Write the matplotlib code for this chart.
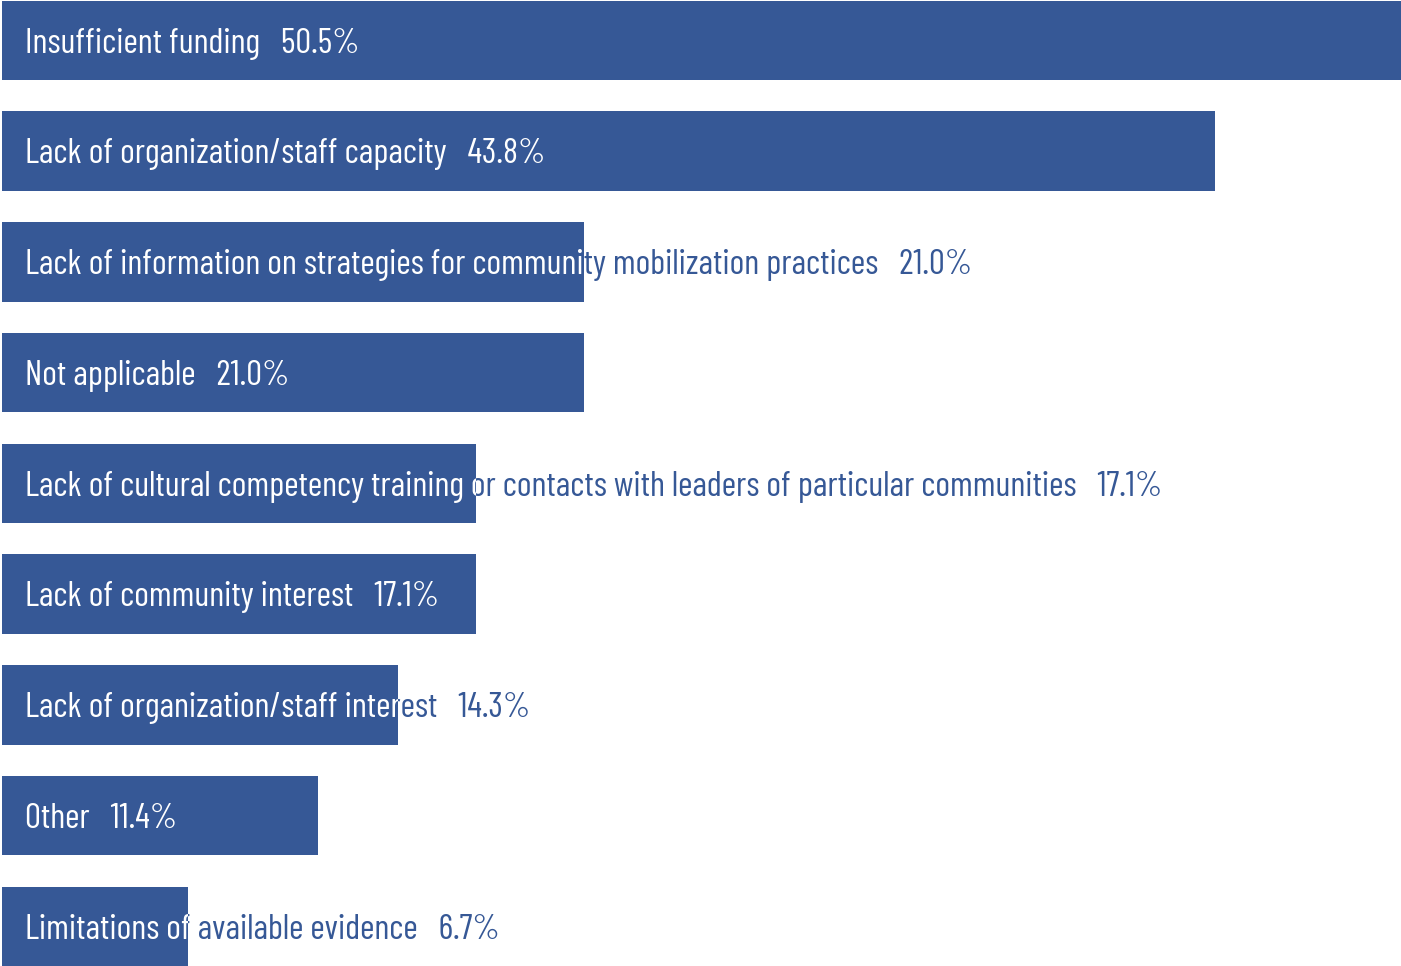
import matplotlib
matplotlib.use("Agg")
import matplotlib.pyplot as plt
from matplotlib.transforms import Bbox, TransformedBbox

categories = [
    "Insufficient funding",
    "Lack of organization/staff capacity",
    "Lack of information on strategies for community mobilization practices",
    "Not applicable",
    "Lack of cultural competency training or contacts with leaders of particular communities",
    "Lack of community interest",
    "Lack of organization/staff interest",
    "Other",
    "Limitations of available evidence",
]
values = [50.5, 43.8, 21.0, 21.0, 17.1, 17.1, 14.3, 11.4, 6.7]

bar_color = "#365896"
font_family = ["Barlow Condensed", "Roboto Condensed", "Liberation Sans Narrow", "DejaVu Sans"]

fig = plt.figure(figsize=(14.01, 9.66), dpi=100)
ax = fig.add_axes([0, 0, 1, 1])
ax.set_xlim(-0.072, 50.5)
ax.set_ylim(8.357, -0.3657)
ax.axis("off")

bar_h = 0.718
y_pos = list(range(len(categories)))
bars = ax.barh(y_pos, values, height=bar_h, color=bar_color, left=0)

for y, label, v in zip(y_pos, categories, values):
    s = f"{label}   {v:.1f}%"
    kw = dict(fontsize=25.3, family=font_family, weight="normal", va="baseline", ha="left")
    ax.text(0.83, y + 0.11, s, color=bar_color, **kw)
    t = ax.text(0.83, y + 0.11, s, color="white", clip_on=True, **kw)
    # white part of the label only where it sits on top of the bar
    box = Bbox.from_extents(0, y - bar_h / 2, v, y + bar_h / 2)
    t.set_clip_box(TransformedBbox(box, ax.transData))

fig.savefig("out.png", dpi=100)
